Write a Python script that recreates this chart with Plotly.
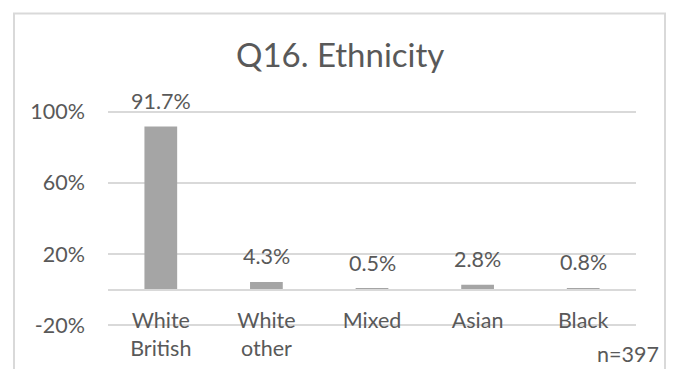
import plotly.graph_objects as go

# Survey results for Q16 (share of respondents, %)
categories = ["White<br>British", "White<br>other", "Mixed", "Asian", "Black"]
shares = [91.7, 4.3, 0.5, 2.8, 0.8]
y_ticks = [-20, 20, 60, 100]
y_tick_labels = ["-20%", "20%", "60%", "100%"]
sample_note = "n=397"

TEXT = "#595959"
GRID = "#D9D9D9"
BAR = "#A5A5A5"
FONT = "Lato"
FS = 21.5

W, H = 675, 369
ML, MR, MT, MB = 108, 39, 110, 42
Y_MIN, Y_MAX = -21, 101

fig = go.Figure()
fig.add_trace(go.Bar(
    x=categories,
    y=shares,
    marker=dict(color=BAR, line=dict(width=0)),
    hoverinfo="skip",
))

# value labels above each bar
for cat, val in zip(categories, shares):
    fig.add_annotation(
        x=cat, y=val, xref="x", yref="y",
        text=f"{val:.1f}%", showarrow=False,
        yanchor="bottom", yshift=11,
        font=dict(family=FONT, size=FS, color=TEXT),
    )

pw, ph = W - ML - MR, H - MT - MB

fig.add_annotation(
    x=(661 - ML) / pw, y=(H - MB - 354) / ph, xref="paper", yref="paper",
    text=sample_note, showarrow=False,
    xanchor="right", yanchor="middle",
    font=dict(family=FONT, size=FS, color=TEXT),
)

# outer chart frame
fig.add_shape(
    type="rect", xref="paper", yref="paper",
    x0=(14 - ML) / pw, x1=(665 - ML) / pw,
    y0=(H - MB - 390) / ph, y1=(H - MB - 13.5) / ph,
    line=dict(color=GRID, width=2), fillcolor="rgba(0,0,0,0)", layer="below",
)

zero_pos = (0 - Y_MIN) / (Y_MAX - Y_MIN)

fig.update_layout(
    width=W, height=H,
    margin=dict(l=ML, r=MR, t=MT, b=MB, autoexpand=False),
    paper_bgcolor="white", plot_bgcolor="white",
    showlegend=False,
    bargap=0.69,
    title=dict(
        text="Q16. Ethnicity",
        x=0.504, xref="container", xanchor="center",
        y=1 - 55 / H, yref="container", yanchor="middle",
        font=dict(family=FONT, size=33, color=TEXT),
    ),
    xaxis=dict(
        anchor="free", position=zero_pos, automargin=False,
        showline=True, linecolor=GRID, linewidth=1.5,
        showgrid=False, ticks="",
        tickfont=dict(family=FONT, size=FS, color=TEXT),
        ticklabelstandoff=12,
    ),
    yaxis=dict(
        range=[Y_MIN, Y_MAX], automargin=False,
        tickvals=y_ticks, ticktext=y_tick_labels,
        showgrid=True, gridcolor=GRID, gridwidth=1.5,
        zeroline=False, showline=False, ticks="",
        tickfont=dict(family=FONT, size=FS, color=TEXT),
        ticklabelstandoff=22,
    ),
)

fig.write_html("out.html")
